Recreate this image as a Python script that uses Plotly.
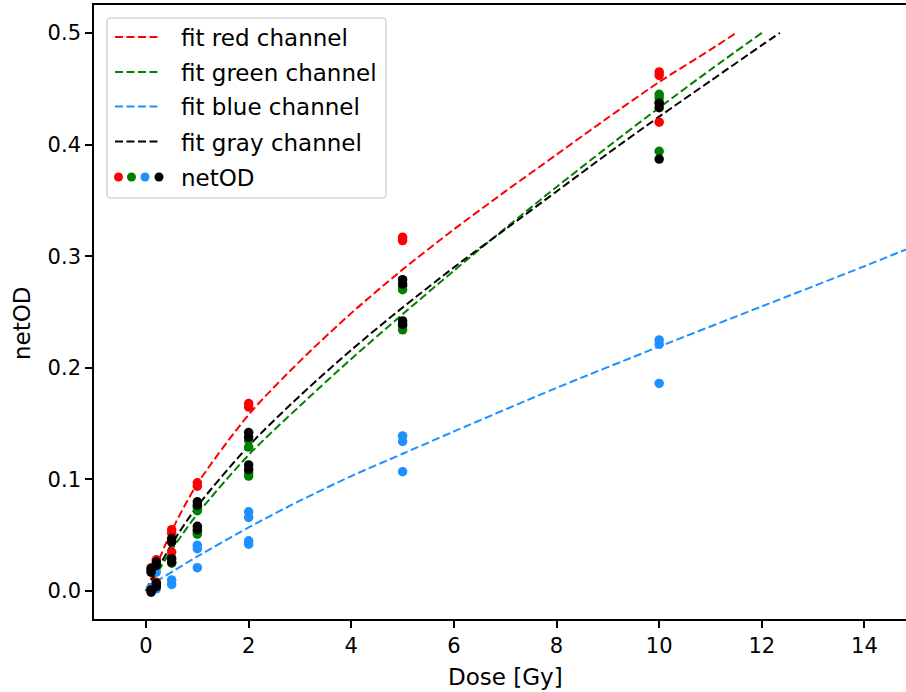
import plotly.graph_objects as go

# ---- measured netOD values per channel (dose in Gy) ----
dose_red = [0.1, 0.1, 0.2, 0.2, 0.5, 0.5, 0.5, 1, 1, 2, 2, 5, 5, 10, 10, 10]
netod_red = [0.021, 0.018, 0.028, 0.008, 0.055, 0.052, 0.035, 0.097, 0.094,
             0.168, 0.165, 0.317, 0.314, 0.465, 0.462, 0.420]

dose_green = [0.1, 0.1, 0.2, 0.2, 0.5, 0.5, 1, 1, 1, 1, 2, 2, 2, 2,
              5, 5, 5, 5, 10, 10, 10, 10]
netod_green = [0.017, 0.001, 0.024, 0.006, 0.044, 0.025, 0.075, 0.072, 0.053, 0.051,
               0.135, 0.129, 0.106, 0.103, 0.273, 0.270, 0.237, 0.234,
               0.445, 0.442, 0.438, 0.394]

dose_blue = [0.1, 0.1, 0.1, 0.2, 0.2, 0.5, 0.5, 1, 1, 1, 2, 2, 2, 2,
             5, 5, 5, 10, 10, 10]
netod_blue = [0.019, 0.003, 0.000, 0.017, 0.002, 0.010, 0.006, 0.041, 0.038, 0.021,
              0.071, 0.066, 0.045, 0.042, 0.139, 0.134, 0.107, 0.225, 0.221, 0.186]

dose_gray = [0.1, 0.1, 0.1, 0.1, 0.2, 0.2, 0.2, 0.2, 0.5, 0.5, 0.5, 0.5,
             1, 1, 1, 1, 2, 2, 2, 2, 5, 5, 5, 5, 10, 10, 10]
netod_gray = [0.020, 0.017, 0.001, -0.001, 0.026, 0.023, 0.007, 0.004,
              0.047, 0.044, 0.029, 0.026, 0.080, 0.077, 0.058, 0.055,
              0.142, 0.138, 0.113, 0.109, 0.279, 0.275, 0.242, 0.239,
              0.437, 0.433, 0.387]

# ---- calibration fit curves (sampled) ----
fit_red_dose = [0, 0.5, 1, 2, 3, 4, 5, 6, 7, 8, 9, 10, 11, 11.5]
fit_red_od = [0, 0.054, 0.096, 0.158, 0.206, 0.249, 0.288, 0.324, 0.358,
              0.391, 0.424, 0.456, 0.485, 0.5]

fit_green_dose = [0, 0.5, 1, 2, 3, 4, 5, 6, 7, 8, 9, 10, 11, 12]
fit_green_od = [0, 0.037, 0.069, 0.122, 0.166, 0.208, 0.248, 0.287, 0.325,
                0.362, 0.398, 0.433, 0.467, 0.5]

fit_blue_dose = [0, 1, 2, 3, 4, 5, 6, 8, 10, 12, 14, 14.81]
fit_blue_od = [0.003, 0.031, 0.057, 0.081, 0.103, 0.123, 0.143, 0.182,
               0.219, 0.255, 0.291, 0.306]

fit_gray_dose = [0, 0.5, 1, 2, 3, 4, 5, 6, 7, 8, 9, 10, 11, 12, 12.35]
fit_gray_od = [0, 0.042, 0.076, 0.130, 0.175, 0.216, 0.254, 0.290, 0.324,
               0.358, 0.392, 0.425, 0.457, 0.489, 0.5]

x_ticks = [0, 2, 4, 6, 8, 10, 12, 14]
y_ticks = [0.0, 0.1, 0.2, 0.3, 0.4, 0.5]

legend_labels = ["fit red channel", "fit green channel", "fit blue channel",
                 "fit gray channel", "netOD"]

RED, GREEN, BLUE, BLACK = "#ff0000", "#008000", "#1e90ff", "#000000"
FONT = "DejaVu Sans"
FS_TICK = 21
FS_TEXT = 23

W, H = 906, 692
ML, MR, MT, MB = 94, 0, 5, 73
PW, PH = W - ML - MR, H - MT - MB


def px(x):
    return (x - ML) / PW


def py(y):
    return (H - MB - y) / PH


fig = go.Figure()

fits = [(fit_red_dose, fit_red_od, RED), (fit_green_dose, fit_green_od, GREEN),
        (fit_blue_dose, fit_blue_od, BLUE), (fit_gray_dose, fit_gray_od, BLACK)]
for xs, ys, c in fits:
    fig.add_trace(go.Scatter(x=xs, y=ys, mode="lines", showlegend=False,
                             line=dict(color=c, width=2, dash="8px,3.5px",
                                       shape="spline", smoothing=0.8),
                             hoverinfo="skip"))

pts = [(dose_red, netod_red, RED), (dose_green, netod_green, GREEN),
       (dose_blue, netod_blue, BLUE), (dose_gray, netod_gray, BLACK)]
for xs, ys, c in pts:
    fig.add_trace(go.Scatter(x=xs, y=ys, mode="markers", showlegend=False,
                             marker=dict(color=c, size=9.5, line=dict(width=0))))

# ---- legend box drawn in pixel space ----
shapes = []
lx0, ly0, lx1, ly1, r = 107, 18, 386, 198, 4
path = (f"M {px(lx0 + r)},{py(ly0)} L {px(lx1 - r)},{py(ly0)} "
        f"Q {px(lx1)},{py(ly0)} {px(lx1)},{py(ly0 + r)} "
        f"L {px(lx1)},{py(ly1 - r)} Q {px(lx1)},{py(ly1)} {px(lx1 - r)},{py(ly1)} "
        f"L {px(lx0 + r)},{py(ly1)} Q {px(lx0)},{py(ly1)} {px(lx0)},{py(ly1 - r)} "
        f"L {px(lx0)},{py(ly0 + r)} Q {px(lx0)},{py(ly0)} {px(lx0 + r)},{py(ly0)} Z")
shapes.append(dict(type="path", path=path, xref="paper", yref="paper",
                   line=dict(color="#d6d6d6", width=1.6), fillcolor="rgba(255,255,255,0.8)",
                   layer="above"))

row_y = [37, 72, 106.5, 141.5, 177]
for yy, c in zip(row_y[:4], [RED, GREEN, BLUE, BLACK]):
    shapes.append(dict(type="line", xref="paper", yref="paper",
                       x0=px(115), x1=px(160), y0=py(yy), y1=py(yy),
                       line=dict(color=c, width=2, dash="8px,3.5px"), layer="above"))
for cx, c in zip([118.5, 131.5, 145, 159], [RED, GREEN, BLUE, BLACK]):
    shapes.append(dict(type="circle", xref="paper", yref="paper",
                       x0=px(cx - 4.5), x1=px(cx + 4.5),
                       y0=py(row_y[4] + 4.5), y1=py(row_y[4] - 4.5),
                       fillcolor=c, line=dict(width=0), layer="above"))

annotations = []
for yy, t in zip(row_y, legend_labels):
    annotations.append(dict(text=t, xref="paper", yref="paper", x=px(179), y=py(yy + 1),
                            xanchor="left", yanchor="middle", showarrow=False,
                            font=dict(family=FONT, size=FS_TEXT, color="black")))

# axis titles placed as annotations for exact positioning
annotations.append(dict(text="Dose [Gy]", xref="paper", yref="paper",
                        x=px(505), y=py(677), xanchor="center", yanchor="middle",
                        showarrow=False, font=dict(family=FONT, size=FS_TEXT, color="black")))
annotations.append(dict(text="netOD", xref="paper", yref="paper",
                        x=px(22), y=py(323), xanchor="center", yanchor="middle",
                        textangle=-90, showarrow=False,
                        font=dict(family=FONT, size=FS_TEXT, color="black")))

fig.update_layout(
    width=W, height=H,
    margin=dict(l=ML, r=MR, t=MT, b=MB, pad=0),
    paper_bgcolor="white", plot_bgcolor="white",
    font=dict(family=FONT, size=FS_TICK, color="black"),
    shapes=shapes, annotations=annotations,
    xaxis=dict(range=[-1.014, 14.81], tickvals=x_ticks, ticktext=[str(v) for v in x_ticks],
               ticks="outside", ticklen=7, tickwidth=1.6, tickcolor="black",
               showline=True, linecolor="black", linewidth=1.6, mirror=True,
               showgrid=False, zeroline=False,
               tickfont=dict(size=FS_TICK)),
    yaxis=dict(range=[-0.025, 0.525], tickvals=y_ticks,
               ticktext=[f"{v:.1f}" for v in y_ticks],
               ticks="outside", ticklen=7, tickwidth=1.6, tickcolor="black",
               showline=True, linecolor="black", linewidth=1.6, mirror=False,
               showgrid=False, zeroline=False,
               tickfont=dict(size=FS_TICK)),
)

fig.write_html("out.html")
